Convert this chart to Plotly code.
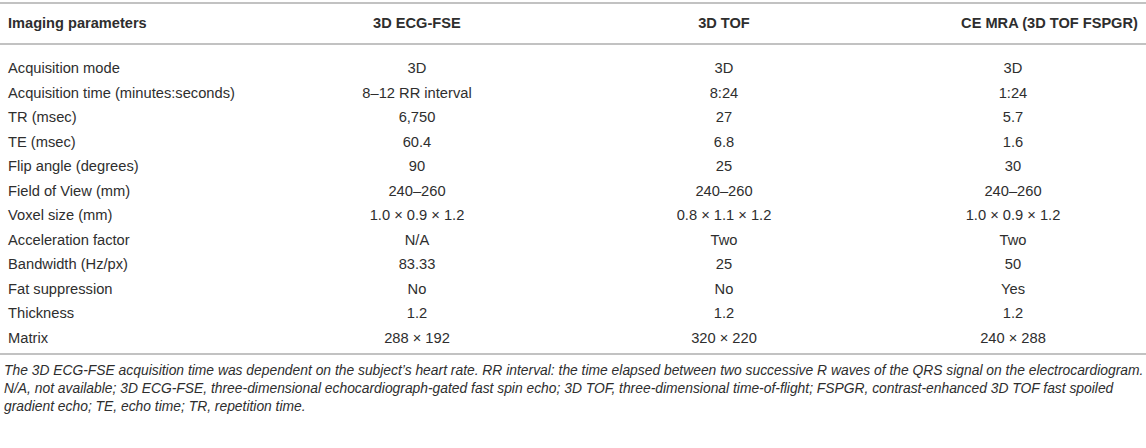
import plotly.graph_objects as go

W, H = 1146, 448

header = ["Imaging parameters", "3D ECG-FSE", "3D TOF", "CE MRA (3D TOF FSPGR)"]
params = ["Acquisition mode", "Acquisition time (minutes:seconds)", "TR (msec)", "TE (msec)",
          "Flip angle (degrees)", "Field of View (mm)", "Voxel size (mm)", "Acceleration factor",
          "Bandwidth (Hz/px)", "Fat suppression", "Thickness", "Matrix"]
ecg_fse = ["3D", "8–12 RR interval", "6,750", "60.4", "90", "240–260", "1.0 × 0.9 × 1.2",
           "N/A", "83.33", "No", "1.2", "288 × 192"]
tof = ["3D", "8:24", "27", "6.8", "25", "240–260", "0.8 × 1.1 × 1.2",
       "Two", "25", "No", "1.2", "320 × 220"]
ce_mra = ["3D", "1:24", "5.7", "1.6", "30", "240–260", "1.0 × 0.9 × 1.2",
          "Two", "50", "Yes", "1.2", "240 × 288"]
footnote = [
    "The 3D ECG-FSE acquisition time was dependent on the subject’s heart rate. RR interval: the time elapsed between two successive R waves of the QRS signal on the electrocardiogram.",
    "N/A, not available; 3D ECG-FSE, three-dimensional echocardiograph-gated fast spin echo; 3D TOF, three-dimensional time-of-flight; FSPGR, contrast-enhanced 3D TOF fast spoiled",
    "gradient echo; TE, echo time; TR, repetition time.",
]

TEXT = "#2e2e2e"
RULE = "#c2c2c2"
FONT = "Liberation Sans, Arial, sans-serif"

header_h = 47
row_h = 24.5
top_px = 7
table_h = header_h + row_h * len(params) + 6

fig = go.Figure(go.Table(
    columnwidth=[266, 302, 312, 266],
    domain=dict(x=[0, 1], y=[1 - (top_px + table_h) / H, 1 - top_px / H]),
    header=dict(
        values=[f"<b>{h}</b>" for h in header],
        align=["left", "center", "center", "right"],
        font=dict(family=FONT, size=14.6, color=TEXT),
        fill_color="white",
        line=dict(width=0, color="white"),
        height=header_h,
    ),
    cells=dict(
        values=[params, ecg_fse, tof, ce_mra],
        align=["left", "center", "center", "center"],
        font=dict(family=FONT, size=14.7, color=TEXT),
        fill_color="white",
        line=dict(width=0, color="white"),
        height=row_h,
    ),
))

for ypx in (3, 44, 354):
    fig.add_shape(type="line", xref="paper", yref="paper", x0=0, x1=1,
                  y0=1 - ypx / H, y1=1 - ypx / H, line=dict(color=RULE, width=2))

fig.add_annotation(
    xref="paper", yref="paper", x=0, y=1 - 360 / H, xanchor="left", yanchor="top",
    align="left", showarrow=False, xshift=2,
    text="<br>".join(f"<i>{t}</i>" for t in footnote),
    font=dict(family=FONT, size=13.85, color=TEXT),
)

fig.update_layout(
    width=W, height=H,
    margin=dict(l=0, r=0, t=0, b=0),
    paper_bgcolor="white", plot_bgcolor="white",
)

fig.write_html("out.html", config={"displayModeBar": False},
               post_script="document.body.style.margin='0';")
